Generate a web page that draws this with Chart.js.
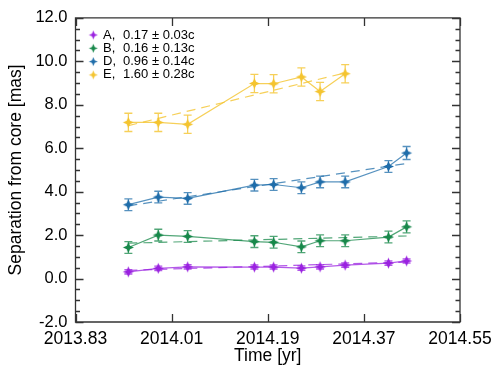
<!DOCTYPE html>
<html><head><meta charset="utf-8">
<script src="https://cdn.jsdelivr.net/npm/chart.js@4/dist/chart.umd.min.js"></script>
<style>html,body{margin:0;padding:0;background:#fff}</style>
</head><body>
<canvas id="c" width="500" height="377"></canvas>
<script>
// ---- data ----
const times = [2013.929, 2013.985, 2014.040, 2014.165, 2014.201, 2014.253, 2014.288, 2014.335, 2014.416, 2014.450];
const seriesNames = ['A', 'B', 'D', 'E'];
const speeds = ['0.17 \u00b1 0.03c', '0.16 \u00b1 0.13c', '0.96 \u00b1 0.14c', '1.60 \u00b1 0.28c'];
const valuesA = [0.31, 0.47, 0.54, 0.53, 0.53, 0.48, 0.54, 0.62, 0.71, 0.81];
const valuesB = [1.43, 2.00, 1.94, 1.70, 1.67, 1.46, 1.74, 1.74, 1.91, 2.38];
const valuesD = [3.40, 3.75, 3.69, 4.30, 4.33, 4.18, 4.45, 4.45, 5.16, 5.78];
const valuesE = [7.19, 7.19, 7.10, 8.98, 8.97, 9.28, 8.61, 9.43];
const errA = [0.10, 0.10, 0.10, 0.10, 0.10, 0.10, 0.10, 0.10, 0.10, 0.10];
const errB = [0.27, 0.27, 0.27, 0.27, 0.27, 0.27, 0.27, 0.27, 0.27, 0.28];
const errD = [0.27, 0.27, 0.27, 0.27, 0.27, 0.27, 0.27, 0.27, 0.27, 0.30];
const errE = [0.42, 0.42, 0.42, 0.42, 0.42, 0.42, 0.42, 0.42];
// dashed linear fits: [start, end] values at first and last epoch
const fitA = [0.38, 0.76];
const fitB = [1.63, 1.96];
const fitD = [3.35, 5.30];
const fitE = [7.04, 9.47];
const xTickValues = [2013.83, 2014.01, 2014.19, 2014.37, 2014.55];
const yTickValues = [-2, 0, 2, 4, 6, 8, 10, 12];

// ---- styling ----
const colors = ['#9a22e0', '#17884a', '#1f6daa', '#f4c430'];
const lineColors = ['rgba(154,34,224,0.75)', 'rgba(23,136,74,0.75)', 'rgba(31,109,170,0.75)', 'rgba(244,196,48,0.8)'];
const FONT = "'Liberation Sans', Arial, Helvetica, sans-serif";

function starImage(color, r) {
  const size = Math.ceil(r * 2 + 2);
  const cv = document.createElement('canvas');
  cv.width = size; cv.height = size;
  const g = cv.getContext('2d');
  const c = size / 2, ri = r * 0.42;
  g.fillStyle = color;
  g.beginPath();
  for (let k = 0; k < 8; k++) {
    const ang = -Math.PI / 2 + k * Math.PI / 4;
    const rr = k % 2 === 0 ? r : ri;
    const px = c + rr * Math.cos(ang), py = c + rr * Math.sin(ang);
    if (k === 0) g.moveTo(px, py); else g.lineTo(px, py);
  }
  g.closePath(); g.fill();
  return cv;
}

const allValues = [valuesA, valuesB, valuesD, valuesE];
const allErr = [errA, errB, errD, errE];
const allFits = [fitA, fitB, fitD, fitE];
const markers = colors.map(c => starImage(c, 5.5));
const legendMarkers = colors.map(c => starImage(c, 4.5));

const datasets = [];
allValues.forEach((vals, i) => {
  datasets.push({
    label: seriesNames[i],
    data: vals.map((v, k) => ({x: times[k], y: v})),
    borderColor: lineColors[i],
    backgroundColor: colors[i],
    borderWidth: 1.2,
    pointStyle: markers[i],
    pointRadius: 5,
    showLine: true,
    fill: false,
    tension: 0,
    errors: allErr[i]
  });
});
allFits.forEach((f, i) => {
  const n = allValues[i].length;
  datasets.push({
    label: seriesNames[i] + ' fit',
    data: [{x: times[0], y: f[0]}, {x: times[n - 1], y: f[1]}],
    borderColor: lineColors[i],
    borderWidth: 1.2,
    borderDash: [9, 6],
    pointRadius: 0,
    showLine: true,
    fill: false
  });
});

const framePlugin = {
  id: 'frame',
  beforeDatasetsDraw(chart) {
    const ctx = chart.ctx, xs = chart.scales.x, ys = chart.scales.y;
    ctx.save();
    ctx.setLineDash([]);
    datasets.forEach((ds, i) => {
      if (!ds.errors) return;
      ctx.strokeStyle = lineColors[i];
      ctx.lineWidth = 1.3;
      ds.data.forEach((p, k) => {
        const e = ds.errors[k];
        const px = xs.getPixelForValue(p.x);
        const y1 = ys.getPixelForValue(p.y - e), y2 = ys.getPixelForValue(p.y + e);
        ctx.beginPath();
        ctx.moveTo(px, y1); ctx.lineTo(px, y2);
        ctx.moveTo(px - 4, y1); ctx.lineTo(px + 4, y1);
        ctx.moveTo(px - 4, y2); ctx.lineTo(px + 4, y2);
        ctx.stroke();
      });
    });
    ctx.restore();
  },
  afterDraw(chart) {
    const ctx = chart.ctx, xs = chart.scales.x, ys = chart.scales.y;
    const L0 = xs.getPixelForValue(2013.83), R0 = xs.getPixelForValue(2014.55);
    const T0 = ys.getPixelForValue(12), B0 = ys.getPixelForValue(-2);
    ctx.save();
    ctx.setLineDash([]);
    ctx.globalAlpha = 1;
    ctx.strokeStyle = '#333333';
    ctx.lineWidth = 1.3;
    ctx.beginPath();
    ctx.rect(L0, T0, R0 - L0, B0 - T0);
    const MAJ = 8, MIN = 4.5;
    xTickValues.forEach(v => {
      const px = Math.round(xs.getPixelForValue(v)) + 0.5;
      ctx.moveTo(px, B0); ctx.lineTo(px, B0 - MAJ);
      ctx.moveTo(px, T0); ctx.lineTo(px, T0 + MAJ);
    });
    for (let v = -2; v <= 12.001; v += 0.5) {
      const major = Math.abs(v / 2 - Math.round(v / 2)) < 1e-6;
      const L = major ? MAJ : MIN;
      const py = Math.round(ys.getPixelForValue(v)) + 0.5;
      ctx.moveTo(L0, py); ctx.lineTo(L0 + L, py);
      ctx.moveTo(R0, py); ctx.lineTo(R0 - L, py);
    }
    ctx.stroke();
    // legend
    ctx.font = '13px ' + FONT;
    ctx.fillStyle = '#000';
    ctx.textBaseline = 'middle';
    ctx.textAlign = 'left';
    seriesNames.forEach((n, i) => {
      const y = 35 + i * 13.3;
      const m = legendMarkers[i];
      ctx.drawImage(m, 93.3 - m.width / 2, y - m.height / 2);
      ctx.fillText(n + ',', 103, y);
      ctx.fillText(speeds[i], 123, y);
    });
    ctx.restore();
  }
};

new Chart(document.getElementById('c'), {
  type: 'scatter',
  data: {datasets},
  options: {
    responsive: false,
    animation: false,
    devicePixelRatio: 1,
    layout: {padding: {top: 14.5, right: 40, left: 0, bottom: 0}},
    plugins: {legend: {display: false}, tooltip: {enabled: false}},
    scales: {
      x: {
        type: 'linear', min: 2013.83, max: 2014.55,
        afterBuildTicks: s => { s.ticks = xTickValues.map(v => ({value: v})); },
        afterFit: s => { s.height = 55; },
        grid: {display: false, drawTicks: false}, border: {display: false},
        ticks: {callback: v => Number(v).toFixed(2), font: {family: FONT, size: 17.5}, color: '#000', padding: 7, maxRotation: 0, autoSkip: false},
        title: {display: true, text: 'Time [yr]', font: {family: FONT, size: 17.5}, color: '#000', padding: {top: 0, bottom: 10}}
      },
      y: {
        type: 'linear', min: -2, max: 12,
        afterBuildTicks: s => { s.ticks = yTickValues.map(v => ({value: v})); },
        afterFit: s => { s.width = 75.5; },
        grid: {display: false, drawTicks: false}, border: {display: false},
        ticks: {callback: v => Number(v).toFixed(1), font: {family: FONT, size: 16.5}, color: '#000', padding: 8},
        title: {display: true, text: 'Separation from core [mas]', font: {family: FONT, size: 17.5}, color: '#000', padding: {top: 6, bottom: 0}}
      }
    }
  },
  plugins: [framePlugin]
});
</script>
</body></html>
